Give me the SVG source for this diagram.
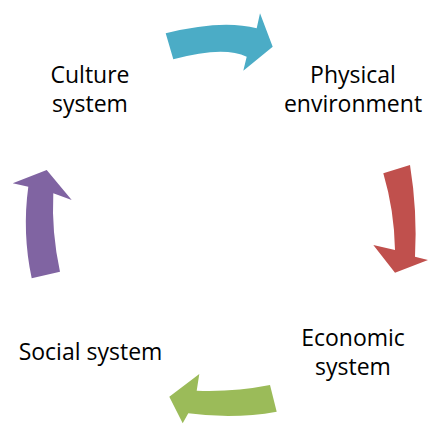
<svg xmlns="http://www.w3.org/2000/svg" width="428" height="425" viewBox="0 0 428 425">
  <style>
    .label { font-family: "Open Sans", "Noto Sans", "Liberation Sans", sans-serif; font-size: 23px; fill: #000000; text-anchor: middle; }
    .teal { fill: #4bacc6; }
    .red { fill: #c0504d; }
    .green { fill: #9bbb59; }
    .purple { fill: #8064a2; }
  </style>
  <rect width="428" height="425" fill="#ffffff"/>

  <!-- curved block arrows running clockwise between the systems -->
  <g id="connectors">
    <path class="teal" d="M165.7,33.3 Q222.2,19.2 256.7,28.3 L260,13.3 L272.7,46.7 L243.3,70.7 L246.7,56.7 Q223.4,45.4 173.3,59.3 Z"/>
    <path class="red" d="M383.3,173.3 L410,165 Q417.5,211.2 415,256.7 L428,260 L395,272.7 L373.3,245 L395,250 Q394.3,210.4 383.3,173.3 Z"/>
    <path class="green" d="M270,385 Q233.5,392.2 196.7,390.7 L199.3,374 L169.3,396.7 L182.7,423.3 L188.3,413.3 Q234,419.5 276.7,411.7 Z"/>
    <path class="purple" d="M46.7,170 L71.7,200 L53.3,193.3 Q51.4,232.5 60,271.7 L31.7,278.3 Q22,232.7 28.3,186.7 L12.7,183.3 Z"/>
  </g>

  <g id="culture-system">
    <text class="label" x="90" y="83">Culture</text>
    <text class="label" x="90" y="112">system</text>
  </g>

  <g id="physical-environment">
    <text class="label" x="353" y="83">Physical</text>
    <text class="label" x="353" y="112">environment</text>
  </g>

  <g id="economic-system">
    <text class="label" x="353" y="346">Economic</text>
    <text class="label" x="353" y="375">system</text>
  </g>

  <g id="social-system">
    <text class="label" x="90.5" y="360">Social system</text>
  </g>
</svg>
